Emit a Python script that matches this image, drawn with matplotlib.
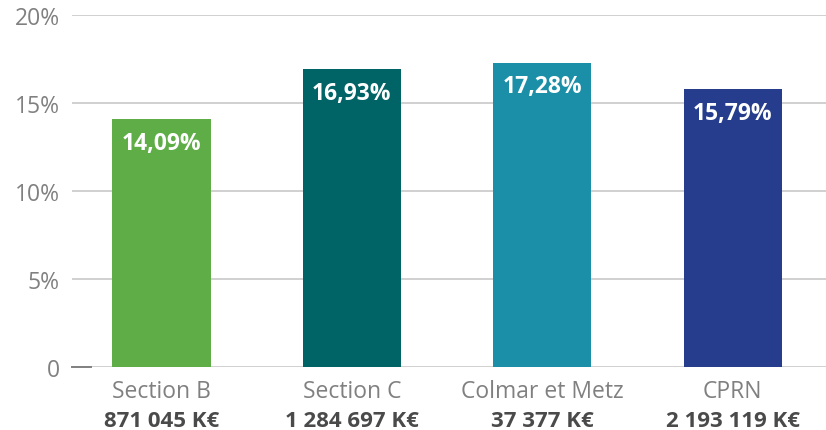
import matplotlib
matplotlib.use("Agg")
import matplotlib.pyplot as plt
from matplotlib.transforms import blended_transform_factory, offset_copy

categories = ["Section B", "Section C", "Colmar et Metz", "CPRN"]
amounts = ["871 045 K€", "1 284 697 K€", "37 377 K€", "2 193 119 K€"]
values = [14.09, 16.93, 17.28, 15.79]
value_labels = ["14,09%", "16,93%", "17,28%", "15,79%"]
colors = ["#5fad46", "#006366", "#1b8fa7", "#263d8e"]
yticks = [0, 5, 10, 15, 20]
ytick_labels = ["0", "5%", "10%", "15%", "20%"]

plt.rcParams['font.family'] = ['Open Sans', 'DejaVu Sans']

fig = plt.figure(figsize=(8.26, 4.31), dpi=100)
ax = fig.add_axes([72/826, 63/431, 1 - 72/826, (368-16)/431])

x = list(range(len(categories)))
ax.bar(x, values, width=0.515, color=colors, zorder=3)
ax.set_xlim(-0.47, 3.49)
ax.set_ylim(0, 20)

for yv in yticks:
    ax.axhline(yv, color="#c8c8c8", lw=1.2, zorder=1)
ax.plot([0, 0.025], [0, 0], transform=ax.transAxes, color="#808080", lw=1.4, zorder=2, clip_on=False)

for xi, v, lab in zip(x, values, value_labels):
    ax.annotate(lab, (xi, v), xytext=(0, -17), textcoords="offset points",
                ha="center", va="center", color="white", fontsize=16.5, fontweight="bold", zorder=4)

ax.set_yticks(yticks)
ax.set_yticklabels(ytick_labels, color="#808080", fontsize=16.5)
ax.tick_params(axis="y", length=0, pad=9)
ax.set_xticks(x)
ax.set_xticklabels(categories, color="#808080", fontsize=16.5)
ax.tick_params(axis="x", length=0, pad=8.5)
for s in ax.spines.values():
    s.set_visible(False)

trans = blended_transform_factory(ax.transData, ax.transAxes)
trans = offset_copy(trans, fig=fig, x=0, y=-38.5, units="points")
for xi, a in zip(x, amounts):
    ax.text(xi, 0, a, transform=trans, ha="center", va="center",
            color="#4a4a4a", fontsize=16, fontweight="bold")

fig.savefig("out.png", dpi=100)
